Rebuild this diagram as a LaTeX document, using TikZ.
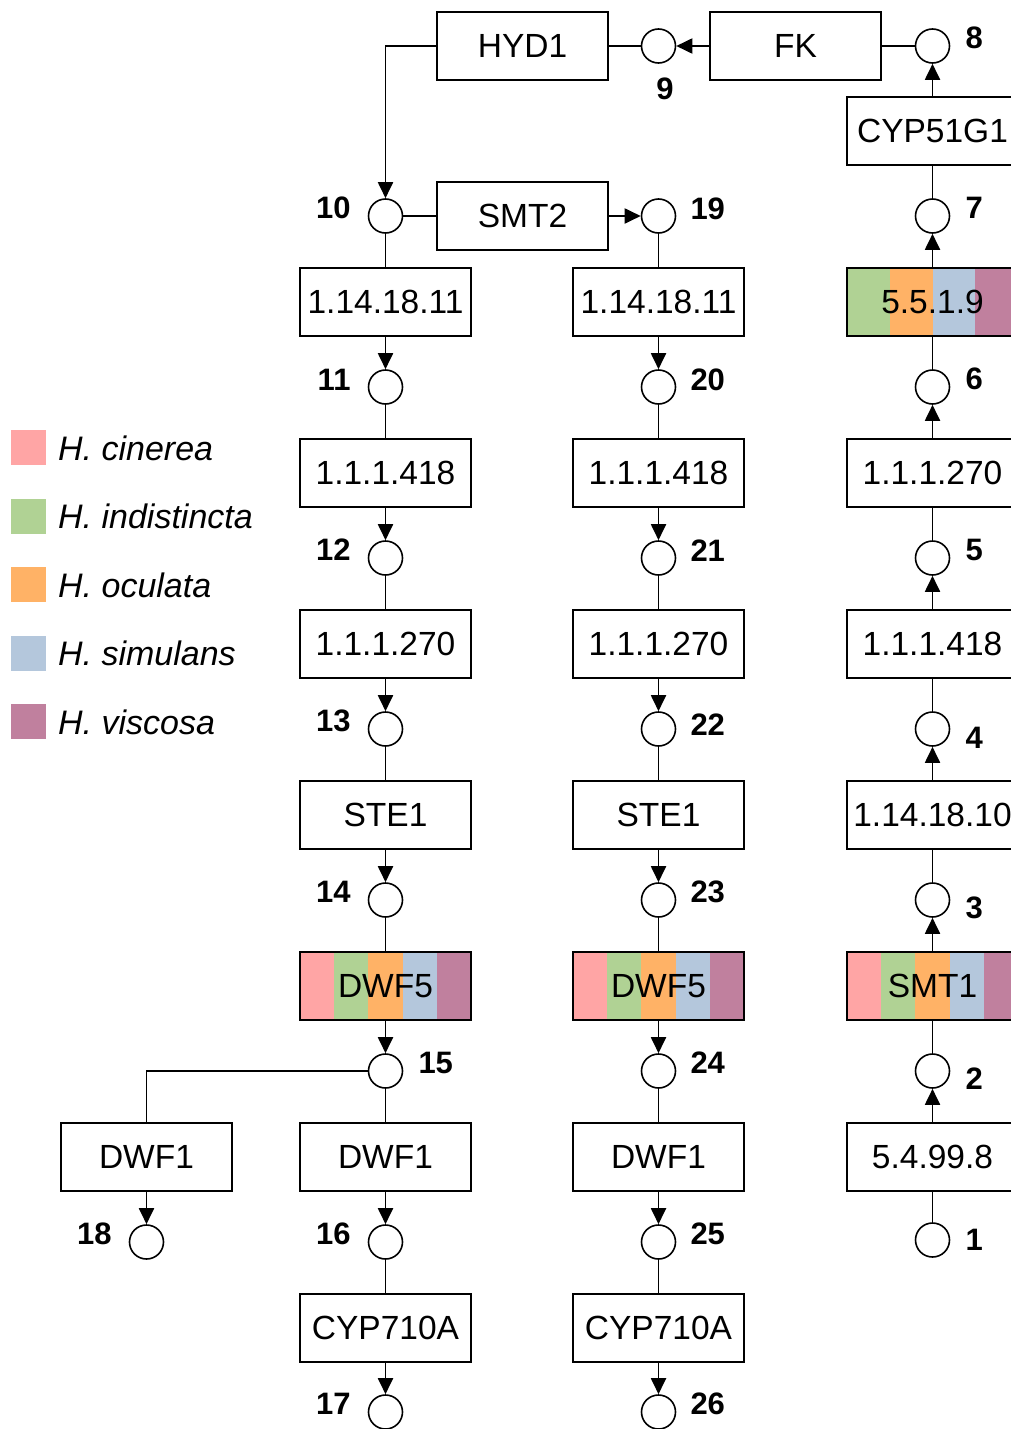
\documentclass[tikz,border=0pt]{standalone}
\usepackage{fontspec}
\setmainfont{Liberation Sans}
\usetikzlibrary{arrows.meta,calc}
\definecolor{cin}{RGB}{255,165,165}
\definecolor{ind}{RGB}{176,210,148}
\definecolor{ocu}{RGB}{255,178,102}
\definecolor{sim}{RGB}{180,199,220}
\definecolor{vis}{RGB}{192,128,158}
\tikzset{
  box/.style={draw, line width=1.9pt, minimum width=171pt, minimum height=68pt, inner sep=0pt,
    font=\fontsize{33.5}{40}\selectfont},
  met/.style={draw, circle, line width=1.6pt, minimum size=34pt, inner sep=0pt, fill=white},
  lab/.style={font=\fontsize{31}{37}\selectfont\bfseries, inner sep=0pt},
  leg/.style={font=\fontsize{34}{40}\selectfont\itshape, anchor=west, inner sep=0pt},
  sw/.style={minimum size=35pt, inner sep=0pt},
  ln/.style={line width=1.9pt},
  arr/.style={line width=1.9pt, -{Triangle[length=16pt,width=15pt]}},
  fivestrip/.style={path picture={
    \foreach \c [count=\i from 0] in {cin,ind,ocu,sim,vis}{
      \fill[\c] ($(path picture bounding box.south west)!{\i/5}!(path picture bounding box.south east)$)
        rectangle ($(path picture bounding box.north west)!{(\i+1)/5}!(path picture bounding box.north east)$);
    }}},
  fourstrip/.style={path picture={
    \foreach \c [count=\i from 0] in {ind,ocu,sim,vis}{
      \fill[\c] ($(path picture bounding box.south west)!{\i/4}!(path picture bounding box.south east)$)
        rectangle ($(path picture bounding box.north west)!{(\i+1)/4}!(path picture bounding box.north east)$);
    }}},
}
\begin{document}
\begin{tikzpicture}[x=1pt,y=-1pt]
\useasboundingbox (0,0) rectangle (1011,1429);
\clip (0,0) rectangle (1011,1429);

% top row
\node[box] (hyd) at (522.5,46) {HYD1};
\node[box] (fk) at (795.5,46) {FK};
\node[met] (c9) at (658.5,46) {};
\node[met] (c8) at (932.5,46) {};
\node[box] (smt2) at (522.5,216) {SMT2};

% left column
\node[met] (c10) at (385.5,216) {};
\node[box] (k1) at (385.5,302) {1.14.18.11};
\node[met] (c11) at (385.5,387) {};
\node[box] (k2) at (385.5,473) {1.1.1.418};
\node[met] (c12) at (385.5,558) {};
\node[box] (k3) at (385.5,644) {1.1.1.270};
\node[met] (c13) at (385.5,729) {};
\node[box] (k4) at (385.5,815) {STE1};
\node[met] (c14) at (385.5,900) {};
\node[box,fivestrip] (k5) at (385.5,986) {DWF5};
\node[met] (c15) at (385.5,1071) {};
\node[box] (k6) at (385.5,1157) {DWF1};
\node[met] (c16) at (385.5,1242) {};
\node[box] (k7) at (385.5,1328) {CYP710A};
\node[met] (c17) at (385.5,1412) {};
\node[box] (dwfl) at (146.5,1157) {DWF1};
\node[met] (c18) at (146.5,1242) {};

% middle column
\node[met] (c19) at (658.5,216) {};
\node[box] (m1) at (658.5,302) {1.14.18.11};
\node[met] (c20) at (658.5,387) {};
\node[box] (m2) at (658.5,473) {1.1.1.418};
\node[met] (c21) at (658.5,558) {};
\node[box] (m3) at (658.5,644) {1.1.1.270};
\node[met] (c22) at (658.5,729) {};
\node[box] (m4) at (658.5,815) {STE1};
\node[met] (c23) at (658.5,900) {};
\node[box,fivestrip] (m5) at (658.5,986) {DWF5};
\node[met] (c24) at (658.5,1071) {};
\node[box] (m6) at (658.5,1157) {DWF1};
\node[met] (c25) at (658.5,1242) {};
\node[box] (m7) at (658.5,1328) {CYP710A};
\node[met] (c26) at (658.5,1412) {};

% right column (runs upwards)
\node[met] (c1) at (932.5,1240) {};
\node[box] (r1) at (932.5,1157) {5.4.99.8};
\node[met] (c2) at (932.5,1071) {};
\node[box,fivestrip] (r2) at (932.5,986) {SMT1};
\node[met] (c3) at (932.5,900) {};
\node[box] (r3) at (932.5,815) {1.14.18.10};
\node[met] (c4) at (932.5,729) {};
\node[box] (r4) at (932.5,644) {1.1.1.418};
\node[met] (c5) at (932.5,558) {};
\node[box] (r5) at (932.5,473) {1.1.1.270};
\node[met] (c6) at (932.5,387) {};
\node[box,fourstrip] (r6) at (932.5,302) {5.5.1.9};
\node[met] (c7) at (932.5,216) {};
\node[box] (r7) at (932.5,131) {CYP51G1};

% connectors: right column
\draw[ln] (c1) -- (r1);
\draw[arr] (r1) -- (c2);
\draw[ln] (c2) -- (r2);
\draw[arr] (r2) -- (c3);
\draw[ln] (c3) -- (r3);
\draw[arr] (r3) -- (c4);
\draw[ln] (c4) -- (r4);
\draw[arr] (r4) -- (c5);
\draw[ln] (c5) -- (r5);
\draw[arr] (r5) -- (c6);
\draw[ln] (c6) -- (r6);
\draw[arr] (r6) -- (c7);
\draw[ln] (c7) -- (r7);
\draw[arr] (r7) -- (c8);

% connectors: top row
\draw[ln] (c8) -- (fk);
\draw[arr] (fk) -- (c9);
\draw[ln] (c9) -- (hyd);
\draw[arr] (hyd.west) -| (c10.north);
\draw[ln] (c10) -- (smt2);
\draw[arr] (smt2) -- (c19);

% connectors: left column
\draw[ln] (c10) -- (k1);
\draw[arr] (k1) -- (c11);
\draw[ln] (c11) -- (k2);
\draw[arr] (k2) -- (c12);
\draw[ln] (c12) -- (k3);
\draw[arr] (k3) -- (c13);
\draw[ln] (c13) -- (k4);
\draw[arr] (k4) -- (c14);
\draw[ln] (c14) -- (k5);
\draw[arr] (k5) -- (c15);
\draw[ln] (c15) -- (k6);
\draw[ln] (c15.west) -| (dwfl.north);
\draw[arr] (dwfl) -- (c18);
\draw[arr] (k6) -- (c16);
\draw[ln] (c16) -- (k7);
\draw[arr] (k7) -- (c17);

% connectors: middle column
\draw[ln] (c19) -- (m1);
\draw[arr] (m1) -- (c20);
\draw[ln] (c20) -- (m2);
\draw[arr] (m2) -- (c21);
\draw[ln] (c21) -- (m3);
\draw[arr] (m3) -- (c22);
\draw[ln] (c22) -- (m4);
\draw[arr] (m4) -- (c23);
\draw[ln] (c23) -- (m5);
\draw[arr] (m5) -- (c24);
\draw[ln] (c24) -- (m6);
\draw[arr] (m6) -- (c25);
\draw[ln] (c25) -- (m7);
\draw[arr] (m7) -- (c26);

% metabolite numbers
\node[lab] (n9) at (665,89) {9};
\node[lab,anchor=west] (n8) at ($(c8.east)+(15,-8)$) {8};
\node[lab,anchor=west] (n7) at ($(c7.east)+(15,-8)$) {7};
\node[lab,anchor=west] (n6) at ($(c6.east)+(15,-8)$) {6};
\node[lab,anchor=west] (n5) at ($(c5.east)+(15,-8)$) {5};
\node[lab,anchor=west] (n4) at ($(c4.east)+(15,9)$) {4};
\node[lab,anchor=west] (n3) at ($(c3.east)+(15,8)$) {3};
\node[lab,anchor=west] (n2) at ($(c2.east)+(15,8)$) {2};
\node[lab,anchor=west] (n1) at ($(c1.east)+(15,0)$) {1};
\node[lab,anchor=east] (n10) at ($(c10.west)+(-17,-8)$) {10};
\node[lab,anchor=east] (n11) at ($(c11.west)+(-17,-7)$) {11};
\node[lab,anchor=east] (n12) at ($(c12.west)+(-17,-8)$) {12};
\node[lab,anchor=east] (n13) at ($(c13.west)+(-17,-8)$) {13};
\node[lab,anchor=east] (n14) at ($(c14.west)+(-17,-8)$) {14};
\node[lab,anchor=west] (n15) at ($(c15.east)+(15,-8)$) {15};
\node[lab,anchor=east] (n16) at ($(c16.west)+(-17,-8)$) {16};
\node[lab,anchor=east] (n17) at ($(c17.west)+(-17,-8)$) {17};
\node[lab,anchor=east] (n18) at ($(c18.west)+(-17,-8)$) {18};
\node[lab,anchor=west] (n19) at ($(c19.east)+(14,-7)$) {19};
\node[lab,anchor=west] (n20) at ($(c20.east)+(14,-7)$) {20};
\node[lab,anchor=west] (n21) at ($(c21.east)+(14,-7)$) {21};
\node[lab,anchor=west] (n22) at ($(c22.east)+(14,-4)$) {22};
\node[lab,anchor=west] (n23) at ($(c23.east)+(14,-8)$) {23};
\node[lab,anchor=west] (n24) at ($(c24.east)+(14,-8)$) {24};
\node[lab,anchor=west] (n25) at ($(c25.east)+(14,-8)$) {25};
\node[lab,anchor=west] (n26) at ($(c26.east)+(14,-8)$) {26};

% legend
\node[sw,fill=cin] (s1) at (28.5,447.5) {};
\node[sw,fill=ind] (s2) at (28.5,516) {};
\node[sw,fill=ocu] (s3) at (28.5,584.5) {};
\node[sw,fill=sim] (s4) at (28.5,653) {};
\node[sw,fill=vis] (s5) at (28.5,721.5) {};
\node[leg] (t1) at (58,448) {H. cinerea};
\node[leg] (t2) at (58,516.5) {H. indistincta};
\node[leg] (t3) at (58,585) {H. oculata};
\node[leg] (t4) at (58,653.5) {H. simulans};
\node[leg] (t5) at (58,722) {H. viscosa};
\end{tikzpicture}
\end{document}
